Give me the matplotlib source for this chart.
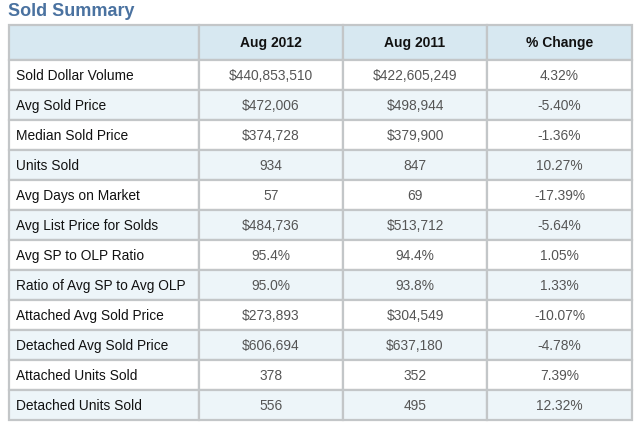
import matplotlib
matplotlib.use("Agg")
import matplotlib.pyplot as plt
from matplotlib.patches import Rectangle

plt.rcParams['font.family'] = ['Liberation Sans', 'DejaVu Sans']

# table data
metrics = ["Sold Dollar Volume", "Avg Sold Price", "Median Sold Price", "Units Sold",
           "Avg Days on Market", "Avg List Price for Solds", "Avg SP to OLP Ratio",
           "Ratio of Avg SP to Avg OLP", "Attached Avg Sold Price", "Detached Avg Sold Price",
           "Attached Units Sold", "Detached Units Sold"]
aug_2012 = ["$440,853,510", "$472,006", "$374,728", "934", "57", "$484,736", "95.4%",
            "95.0%", "$273,893", "$606,694", "378", "556"]
aug_2011 = ["$422,605,249", "$498,944", "$379,900", "847", "69", "$513,712", "94.4%",
            "93.8%", "$304,549", "$637,180", "352", "495"]
pct_change = ["4.32%", "-5.40%", "-1.36%", "10.27%", "-17.39%", "-5.64%", "1.05%",
              "1.33%", "-10.07%", "-4.78%", "7.39%", "12.32%"]
headers = ["", "Aug 2012", "Aug 2011", "% Change"]

fig = plt.figure(figsize=(6.4, 4.36), dpi=100)
ax = fig.add_axes([0, 0, 1, 1])
ax.set_xlim(0, 640)
ax.set_ylim(436, 0)
ax.axis('off')

# layout in pixels
col_x = [9, 199, 343, 487, 632]
top = 25
head_h = 35
row_h = 30
edge = '#c3c6c8'
head_bg = '#d7e8f1'
alt_bg = '#edf5f9'

ax.text(8, 11, "Sold Summary", fontsize=13, fontweight='bold', color='#4a72a0',
        va='center', ha='left')

columns = [metrics, aug_2012, aug_2011, pct_change]
nrows = len(metrics)

# header
for j in range(4):
    ax.add_patch(Rectangle((col_x[j], top), col_x[j+1]-col_x[j], head_h,
                           facecolor=head_bg, edgecolor=edge, lw=1.6))
    if headers[j]:
        ax.text((col_x[j]+col_x[j+1])/2, top+head_h/2+1, headers[j], fontsize=10,
                fontweight='bold', color='#111111', ha='center', va='center')

for i in range(nrows):
    y = top + head_h + i*row_h
    bg = 'white' if i % 2 == 0 else alt_bg
    for j in range(4):
        ax.add_patch(Rectangle((col_x[j], y), col_x[j+1]-col_x[j], row_h,
                               facecolor=bg, edgecolor=edge, lw=1.6))
        if j == 0:
            ax.text(col_x[0]+7, y+row_h/2+1, columns[j][i], fontsize=9.9,
                    color='#111111', ha='left', va='center')
        else:
            ax.text((col_x[j]+col_x[j+1])/2, y+row_h/2+1, columns[j][i], fontsize=9.9,
                    color='#555555', ha='center', va='center')

fig.savefig("out.png", dpi=100)
